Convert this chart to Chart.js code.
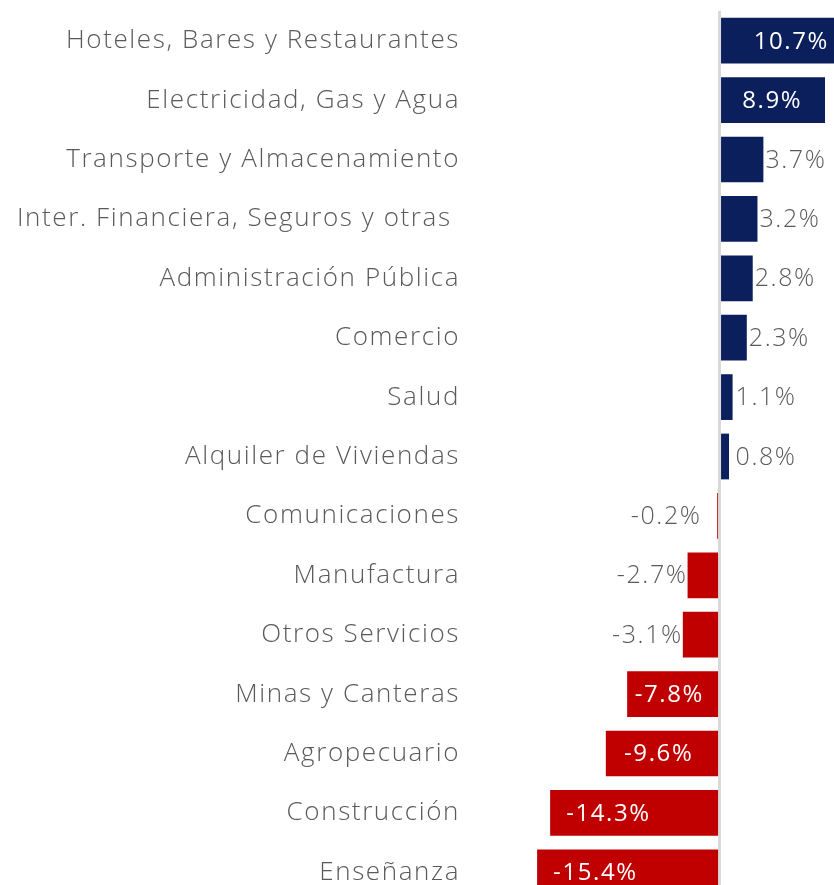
<html>
<head>
<meta charset="utf-8">
<script src="https://cdn.jsdelivr.net/npm/chart.js"></script>
<title>Sectores</title>
<style>
  body { margin: 0; overflow: hidden; background: #fff; }
</style>
</head>
<body>
<div style="position: relative; width: 834px; height: 902px">
  <canvas id="sectores" width="834" height="902"></canvas>
</div>
<script>
const sectores = [
  "Hoteles, Bares y Restaurantes",
  "Electricidad, Gas y Agua",
  "Transporte y Almacenamiento",
  "Inter. Financiera, Seguros y otras ",
  "Administración Pública",
  "Comercio",
  "Salud",
  "Alquiler de Viviendas",
  "Comunicaciones",
  "Manufactura",
  "Otros Servicios",
  "Minas y Canteras",
  "Agropecuario",
  "Construcción",
  "Enseñanza"
];
const variacion = [10.7, 8.9, 3.7, 3.2, 2.8, 2.3, 1.1, 0.8, -0.2, -2.7, -3.1, -7.8, -9.6, -14.3, -15.4];

const NAVY = "#0a1f5c";
const RED = "#c00000";
const GRAY_TXT = "#5a5a5a";
const FONT = "'Open Sans', sans-serif";
const SPACING = "1.6px";

// wider letters, closer to the original typeface
const espaciado = {
  id: "espaciado",
  beforeUpdate(chart) { chart.ctx.letterSpacing = SPACING; },
  beforeDraw(chart) { chart.ctx.letterSpacing = SPACING; }
};

// value labels: white inside the big bars, gray outside the small ones
const etiquetas = {
  id: "etiquetas",
  afterDatasetsDraw(chart) {
    const ctx = chart.ctx;
    const area = chart.chartArea;
    const x = chart.scales.x;
    const zero = x.getPixelForValue(0);
    const meta = chart.getDatasetMeta(0);
    ctx.save();
    ctx.letterSpacing = SPACING;
    ctx.textBaseline = "middle";
    meta.data.forEach((bar, i) => {
      const v = variacion[i];
      const txt = v.toFixed(1) + "%";
      const end = bar.x;
      if (Math.abs(v) > 5) {
        ctx.font = "400 24px " + FONT;
        const w = ctx.measureText(txt).width;
        ctx.fillStyle = "#fff";
        let cx;
        if (v > 0) {
          // bar cut by the right edge: keep the text near that edge
          cx = end > area.right ? area.right - 5 - w / 2 : (zero + end) / 2;
        } else {
          const bw = zero - end;
          cx = bw > 130 ? end + 16 + w / 2 : (zero + end) / 2 - 4;
        }
        ctx.textAlign = "center";
        ctx.fillText(txt, cx, bar.y + 1);
      } else {
        ctx.font = "300 25px " + FONT;
        ctx.fillStyle = GRAY_TXT;
        if (v > 0) {
          ctx.textAlign = "left";
          ctx.fillText(txt, Math.max(end, zero + 14) + 2, bar.y + 1);
        } else {
          ctx.textAlign = "right";
          ctx.fillText(txt, Math.min(end, zero - 18), bar.y + 1);
        }
      }
    });
    ctx.restore();
  }
};

new Chart(document.getElementById("sectores"), {
  type: "bar",
  data: {
    labels: sectores,
    datasets: [{
      data: variacion,
      backgroundColor: variacion.map(v => v >= 0 ? NAVY : RED),
      borderWidth: 0,
      barPercentage: 0.77,
      categoryPercentage: 1
    }]
  },
  options: {
    indexAxis: "y",
    responsive: false,
    animation: false,
    layout: { padding: { top: 11, left: 0, right: 0, bottom: 0 } },
    plugins: {
      legend: { display: false },
      tooltip: { enabled: false }
    },
    scales: {
      x: {
        min: -16,
        max: 9.66,
        ticks: { display: false, stepSize: 2 },
        border: { display: false },
        grid: {
          drawTicks: false,
          lineWidth: 3,
          color: c => c.tick && c.tick.value === 0 ? "#d9d9d9" : "rgba(0,0,0,0)"
        },
        afterFit: s => { s.height = 0; s.paddingLeft = 0; s.paddingRight = 0; }
      },
      y: {
        border: { display: false },
        grid: { display: false, drawTicks: false },
        ticks: {
          color: GRAY_TXT,
          padding: 70,
          font: { family: FONT, size: 26, weight: 300 }
        },
        afterFit: s => { s.width = 530; s.paddingTop = 0; s.paddingBottom = 0; }
      }
    }
  },
  plugins: [espaciado, etiquetas]
});
</script>
</body>
</html>
